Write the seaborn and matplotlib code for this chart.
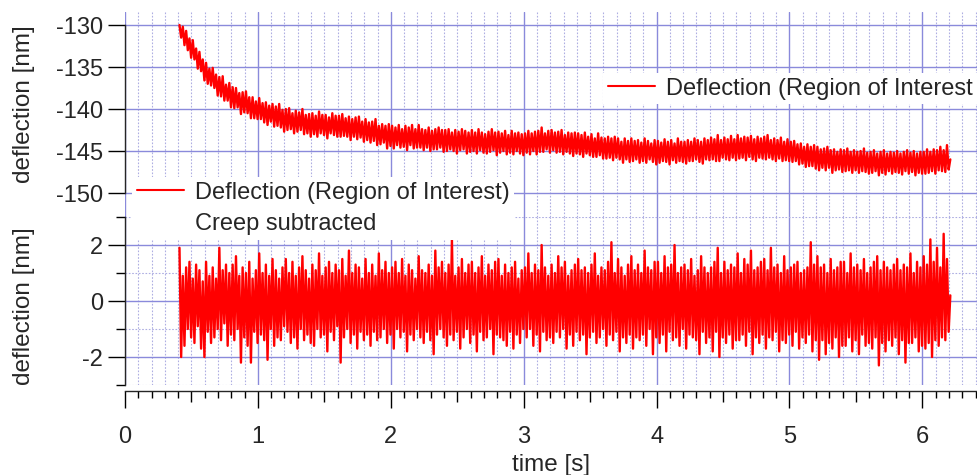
import numpy as np
import matplotlib
matplotlib.use("Agg")
import matplotlib.pyplot as plt
from matplotlib.lines import Line2D
from matplotlib.ticker import FixedLocator, MultipleLocator, FuncFormatter
import seaborn as sns

# deflection signal, one sample every 12.5 ms from t = 0.41 s
t_start = 0.41
t_step = 0.0125

raw_deflection = [
    -130.0, -131.5, -130.2, -132.4, -130.7, -133.0, -131.6, -133.9, -131.8, -134.1, -132.8, -135.2, -133.2, -135.5, -134.1, -136.6,
    -134.5, -137.0, -135.2, -137.2, -135.1, -137.5, -135.9, -138.4, -136.2, -138.5, -136.1, -139.0, -137.1, -139.0, -136.9, -139.8,
    -137.4, -139.9, -137.5, -139.8, -138.1, -140.6, -138.0, -140.4, -137.9, -140.5, -138.6, -141.1, -138.6, -141.1, -139.1, -141.2,
    -138.7, -141.2, -139.3, -141.6, -139.2, -141.9, -139.6, -141.5, -139.4, -142.1, -139.7, -142.0, -139.4, -142.2, -140.1, -142.7,
    -140.0, -142.5, -139.9, -142.4, -140.5, -142.9, -140.2, -142.7, -140.4, -142.5, -140.0, -143.0, -140.7, -142.9, -140.6, -143.3,
    -140.5, -143.0, -140.8, -143.3, -140.3, -142.9, -140.7, -143.1, -140.7, -143.5, -141.0, -142.9, -140.5, -143.1, -140.8, -143.3,
    -140.8, -143.3, -140.6, -143.2, -141.1, -143.3, -140.9, -143.7, -141.2, -143.3, -141.0, -143.6, -140.9, -143.4, -141.5, -143.9,
    -141.2, -143.7, -141.6, -144.0, -141.5, -143.8, -141.2, -144.3, -142.0, -144.2, -141.8, -144.0, -142.0, -144.7, -141.8, -144.4,
    -142.0, -144.7, -142.2, -144.3, -141.9, -144.6, -142.4, -144.5, -142.0, -144.9, -142.2, -144.3, -141.9, -144.7, -142.4, -144.6,
    -141.9, -144.6, -142.4, -144.9, -142.5, -144.6, -142.2, -145.0, -142.6, -144.8, -142.4, -144.8, -142.2, -144.6, -142.5, -145.1,
    -142.5, -145.0, -142.4, -144.8, -142.8, -145.0, -142.5, -145.3, -142.7, -144.9, -142.4, -144.8, -142.6, -145.3, -142.8, -145.1,
    -142.5, -145.0, -142.8, -145.3, -142.4, -144.9, -142.8, -145.2, -143.0, -145.3, -142.7, -145.1, -142.4, -144.9, -142.8, -145.5,
    -142.7, -145.2, -142.9, -145.0, -142.6, -145.4, -143.1, -145.2, -142.6, -145.4, -142.9, -145.0, -142.8, -145.3, -143.0, -145.5,
    -142.9, -145.2, -142.6, -145.4, -142.9, -145.0, -142.7, -145.4, -142.6, -145.1, -142.2, -145.1, -142.9, -144.8, -142.6, -145.2,
    -142.5, -144.9, -142.8, -145.2, -142.7, -145.1, -142.5, -145.4, -143.1, -145.1, -142.8, -145.3, -142.9, -145.6, -142.8, -145.3,
    -142.9, -145.4, -143.1, -145.7, -142.8, -145.3, -143.3, -145.5, -143.0, -145.7, -143.5, -145.7, -142.9, -145.5, -143.4, -145.9,
    -143.5, -145.9, -143.3, -145.8, -143.5, -146.1, -143.3, -145.8, -143.5, -146.0, -143.9, -146.4, -143.5, -146.0, -143.8, -146.3,
    -143.5, -146.2, -143.8, -146.0, -143.7, -146.4, -144.0, -146.2, -143.5, -146.4, -143.8, -146.0, -144.1, -146.3, -143.7, -146.6,
    -143.8, -146.4, -144.0, -146.2, -143.6, -146.3, -143.9, -146.6, -143.7, -146.1, -144.1, -146.4, -143.5, -146.2, -143.9, -146.3,
    -143.9, -146.5, -143.7, -146.2, -143.9, -146.2, -143.5, -146.0, -143.7, -146.3, -143.9, -146.5, -143.5, -146.0, -143.7, -146.1,
    -143.4, -146.0, -143.6, -146.2, -143.1, -146.2, -143.7, -145.8, -143.4, -146.0, -143.6, -146.1, -143.2, -145.8, -143.6, -146.1,
    -143.1, -145.9, -143.5, -145.8, -143.3, -146.1, -143.4, -145.7, -143.2, -146.0, -143.6, -146.2, -143.3, -145.8, -143.5, -145.9,
    -143.3, -146.0, -143.1, -145.8, -143.7, -146.0, -143.5, -146.2, -143.7, -145.9, -143.4, -146.2, -143.9, -146.1, -143.6, -146.2,
    -143.9, -146.3, -143.8, -146.2, -144.2, -146.6, -144.1, -146.5, -144.5, -146.9, -144.2, -146.8, -144.5, -146.8, -144.3, -147.1,
    -144.5, -147.3, -144.8, -147.0, -144.7, -147.3, -144.5, -147.0, -144.9, -147.6, -144.8, -147.3, -145.1, -147.2, -144.8, -147.5,
    -144.9, -147.4, -144.7, -147.3, -145.1, -147.6, -144.9, -147.3, -145.1, -147.6, -145.0, -147.4, -144.7, -147.5, -145.2, -147.7,
    -145.1, -147.6, -144.9, -147.4, -145.3, -147.9, -145.1, -147.6, -144.9, -147.8, -145.3, -147.4, -145.1, -147.7, -145.2, -147.5,
    -145.0, -147.6, -145.3, -147.8, -145.1, -147.4, -144.9, -147.7, -145.2, -147.5, -145.0, -147.9, -145.3, -147.6, -145.1, -147.7,
    -145.1, -147.7, -144.8, -147.6, -145.1, -147.4, -144.8, -147.7, -144.9, -147.3, -144.5, -147.4, -144.9, -147.5, -144.3, -147.2,
    -146.0,
]

creep_subtracted = [
    1.9, -2.0, 0.9, -1.6, 1.2, -1.0, 1.4, -1.3, 0.8, -1.5, 1.3, -0.9, 1.1, -1.7, 0.7, -2.0,
    1.4, -1.1, 0.9, -1.5, 1.2, -1.3, 0.8, -1.0, 1.9, -1.4, 1.1, -0.8, 1.3, -1.6, 1.0, -1.2,
    1.3, -1.4, 1.6, -1.0, 0.9, -2.2, 1.2, -1.3, 1.0, -1.6, 1.4, -2.2, 0.8, -1.1, 1.1, -1.5,
    1.7, -1.2, 1.0, -1.4, 1.3, -2.1, 0.9, -1.0, 1.5, -1.6, 1.1, -1.3, 0.8, -1.4, 1.2, -0.9,
    1.5, -1.1, 1.0, -1.5, 1.4, -1.3, 0.9, -1.7, 1.2, -1.0, 1.6, -1.4, 1.1, -1.2, 0.8, -1.5,
    1.3, -1.6, 1.1, -1.0, 1.7, -1.3, 0.9, -1.2, 1.2, -1.8, 1.4, -1.1, 1.0, -1.4, 1.3, -0.9,
    1.1, -2.2, 1.5, -1.3, 0.9, -1.0, 1.8, -1.5, 1.0, -1.2, 1.3, -1.7, 1.2, -1.1, 0.8, -1.4,
    1.5, -1.2, 1.0, -1.6, 1.3, -1.1, 0.9, -1.4, 1.7, -1.3, 1.1, -1.0, 1.4, -1.5, 1.0, -1.2,
    1.2, -1.7, 1.4, -1.0, 1.0, -1.3, 1.5, -1.1, 0.9, -1.8, 1.3, -1.2, 1.1, -1.4, 0.8, -1.0,
    1.6, -1.3, 1.1, -1.5, 1.0, -1.1, 1.3, -1.4, 0.9, -1.9, 1.8, -1.2, 1.2, -1.0, 1.4, -1.3,
    1.0, -1.6, 1.3, -1.2, 2.2, -1.4, 0.9, -1.1, 1.2, -1.7, 1.5, -1.3, 1.0, -1.0, 1.3, -1.5,
    1.4, -1.2, 1.0, -1.8, 1.2, -1.1, 1.6, -1.4, 0.9, -1.3, 1.3, -1.0, 1.1, -1.9, 1.4, -1.2,
    1.5, -1.3, 0.9, -1.4, 1.3, -1.6, 1.0, -1.1, 1.2, -1.7, 1.4, -1.2, 0.8, -1.5, 1.1, -1.0,
    1.2, -1.3, 1.7, -1.0, 1.0, -1.6, 1.3, -1.2, 1.1, -1.8, 2.0, -1.1, 1.2, -1.4, 0.9, -1.3,
    1.3, -1.5, 1.0, -1.1, 1.6, -1.3, 1.2, -1.0, 1.4, -1.7, 0.9, -1.2, 1.1, -1.6, 1.3, -1.1,
    1.5, -1.4, 1.1, -1.2, 1.2, -1.9, 1.0, -1.3, 1.3, -1.1, 1.7, -1.5, 0.9, -1.3, 1.2, -1.0,
    1.1, -1.6, 1.4, -1.2, 2.1, -1.4, 1.0, -1.1, 1.5, -1.8, 1.2, -1.3, 0.9, -1.5, 1.3, -1.2,
    1.6, -1.7, 1.1, -1.3, 1.3, -1.4, 1.0, -1.2, 1.8, -1.6, 1.2, -1.0, 1.1, -1.9, 1.4, -1.3,
    1.4, -1.5, 1.0, -1.2, 1.6, -1.8, 1.2, -1.1, 1.3, -1.4, 2.0, -1.3, 1.0, -1.6, 1.2, -1.0,
    1.3, -1.7, 1.1, -1.2, 1.5, -1.3, 0.9, -1.4, 1.1, -1.9, 1.6, -1.1, 1.2, -1.5, 1.0, -1.3,
    1.2, -1.8, 1.4, -1.1, 1.9, -2.0, 1.0, -1.3, 1.4, -1.5, 1.1, -1.2, 1.3, -1.7, 1.2, -1.4,
    1.7, -1.4, 1.0, -1.2, 1.5, -1.6, 1.3, -1.1, 1.8, -1.9, 1.1, -1.3, 1.2, -1.5, 1.4, -1.2,
    1.5, -1.7, 1.1, -1.3, 1.9, -1.4, 1.2, -1.1, 1.3, -1.8, 1.0, -1.4, 1.6, -1.5, 1.1, -1.2,
    1.2, -1.6, 1.3, -1.1, 1.4, -1.7, 1.0, -1.3, 1.1, -1.5, 1.2, -1.2, 2.1, -1.8, 1.3, -1.4,
    1.6, -2.1, 1.2, -1.4, 1.3, -1.9, 1.0, -1.5, 1.5, -1.7, 1.1, -1.3, 1.2, -2.0, 1.4, -1.6,
    1.4, -1.6, 1.0, -1.3, 1.7, -1.8, 1.2, -1.4, 1.3, -1.9, 1.1, -1.2, 1.5, -1.6, 1.0, -1.5,
    1.2, -1.7, 1.4, -1.3, 1.6, -2.3, 1.1, -1.5, 1.4, -1.8, 1.2, -1.4, 1.1, -1.6, 1.3, -1.3,
    1.5, -1.9, 1.1, -1.4, 1.3, -2.2, 1.2, -1.5, 1.7, -1.5, 1.0, -1.3, 1.4, -1.8, 1.2, -1.6,
    1.6, -1.7, 1.3, -1.5, 2.2, -2.0, 1.4, -1.4, 1.9, -1.6, 1.2, -1.3, 2.4, -1.4, 1.5, -1.1,
    0.2,
]

top_yticks = [-150, -145, -140, -135, -130]
bot_yticks = [-2, 0, 2]
bot_yminor = [-3, -1, 1, 3]
x_ticks = [0, 1, 2, 3, 4, 5, 6]

# the top legend runs off the right edge in the original, so only this much shows
legend_top = "Deflection (Region of Interest"
legend_bot = ["Deflection (Region of Interest)", "Creep subtracted"]

t_raw = t_start + t_step * np.arange(len(raw_deflection))
t_sub = t_start + t_step * np.arange(len(creep_subtracted))

sns.set_style("white")
plt.rcParams["font.family"] = ["Liberation Sans", "DejaVu Sans"]
plt.rcParams["axes.unicode_minus"] = False

RED = "#ff0000"
GRID_MAJ = "#8a8adb"
GRID_MIN = "#aeaee2"
W, H = 978, 475
FS = 17

fig = plt.figure(figsize=(W / 100, H / 100), dpi=100)
ax_top = fig.add_axes([125 / W, (H - 217) / H, 853 / W, 205 / H])
ax_bot = fig.add_axes([125 / W, (H - 385) / H, 853 / W, 168 / H])

# samples sit ~1.7 px apart, a slightly thicker stroke fills the band like the original
line_kw = dict(color=RED, linewidth=1.7, estimator=None, legend=False)
sns.lineplot(x=t_raw, y=raw_deflection, ax=ax_top, **line_kw)
sns.lineplot(x=t_sub, y=creep_subtracted, ax=ax_bot, **line_kw)

xmax = 853 / 132.9
for ax in (ax_top, ax_bot):
    ax.set_xlim(0, xmax)
    ax.xaxis.set_major_locator(FixedLocator(x_ticks))
    ax.xaxis.set_minor_locator(MultipleLocator(0.1))
    ax.set_axisbelow(True)
    ax.grid(which="major", color=GRID_MAJ, linewidth=1.0, linestyle="-")
    ax.grid(which="minor", axis="x", color=GRID_MIN, linewidth=0.8,
            linestyle=(0, (1.5, 1.5)))
    ax.spines["top"].set_visible(False)
    ax.spines["right"].set_visible(False)
    ax.spines["left"].set_linewidth(1.0)
    ax.set_facecolor("white")
    ax.tick_params(axis="y", which="major", direction="out", length=12.2,
                   width=1.0, color="black", labelsize=FS, pad=3.5, left=True)
    ax.tick_params(axis="y", which="minor", direction="out", length=6.5,
                   width=1.0, color="black", left=True)

# top panel
ax_top.set_ylim(-150 - 24 / 8.4, -130 + 13 / 8.4)
ax_top.yaxis.set_major_locator(FixedLocator(top_yticks))
ax_top.spines["left"].set_bounds(-150, -130)
ax_top.spines["bottom"].set_visible(False)
ax_top.tick_params(axis="x", which="both", bottom=False, labelbottom=False)
ax_top.set_xlabel("")
ax_top.set_ylabel("deflection [nm]", fontsize=17.5)
ax_top.yaxis.set_label_coords(-0.106, 0.55)

# bottom panel
ax_bot.set_ylim(-3, 3)
ax_bot.yaxis.set_major_locator(FixedLocator(bot_yticks))
ax_bot.yaxis.set_minor_locator(FixedLocator(bot_yminor))
ax_bot.grid(which="minor", axis="y", color=GRID_MIN, linewidth=0.8,
            linestyle=(0, (1.5, 1.5)))
ax_bot.spines["bottom"].set_position(("outward", 4))
ax_bot.spines["bottom"].set_linewidth(1.0)
ax_bot.tick_params(axis="x", which="major", direction="out", length=12.2,
                   width=1.0, color="black", labelsize=FS, pad=13.5, bottom=True)
ax_bot.tick_params(axis="x", which="minor", direction="out", length=5.0,
                   width=1.0, color="black", bottom=True)
ax_bot.xaxis.set_major_formatter(FuncFormatter(lambda v, p: f"{v:g}"))
ax_bot.set_xlabel("time [s]", fontsize=17.5, labelpad=4)
ax_bot.set_ylabel("deflection [nm]", fontsize=17.5)
ax_bot.yaxis.set_label_coords(-0.106, 0.47)

# half-second ticks are a bit longer
locs = ax_bot.xaxis.get_minorticklocs()
for loc, tk in zip(locs, ax_bot.xaxis.get_minor_ticks(len(locs))):
    if abs(loc * 2 - round(loc * 2)) < 1e-6:
        tk.tick1line.set_markersize(7.9)

# legends
h_line = Line2D([], [], color=RED, linewidth=1.5)
h_none = Line2D([], [], color="none")
leg1 = fig.legend([h_line], [legend_top], loc="upper left",
                  bbox_to_anchor=(603 / W, 1 - 73 / H), borderaxespad=0,
                  fontsize=FS, handlelength=2.0, handletextpad=0.45,
                  borderpad=0.2, frameon=True, fancybox=False, framealpha=1)
leg2 = fig.legend([h_line, h_none], legend_bot, loc="upper left",
                  bbox_to_anchor=(132 / W, 1 - 177 / H), borderaxespad=0,
                  fontsize=FS, handlelength=2.0, handletextpad=0.45,
                  borderpad=0.2, labelspacing=0.4, frameon=True,
                  fancybox=False, framealpha=1)
for leg in (leg1, leg2):
    leg.get_frame().set_facecolor("white")
    leg.get_frame().set_linewidth(0)

fig.savefig("out.png", dpi=100, facecolor="white")
